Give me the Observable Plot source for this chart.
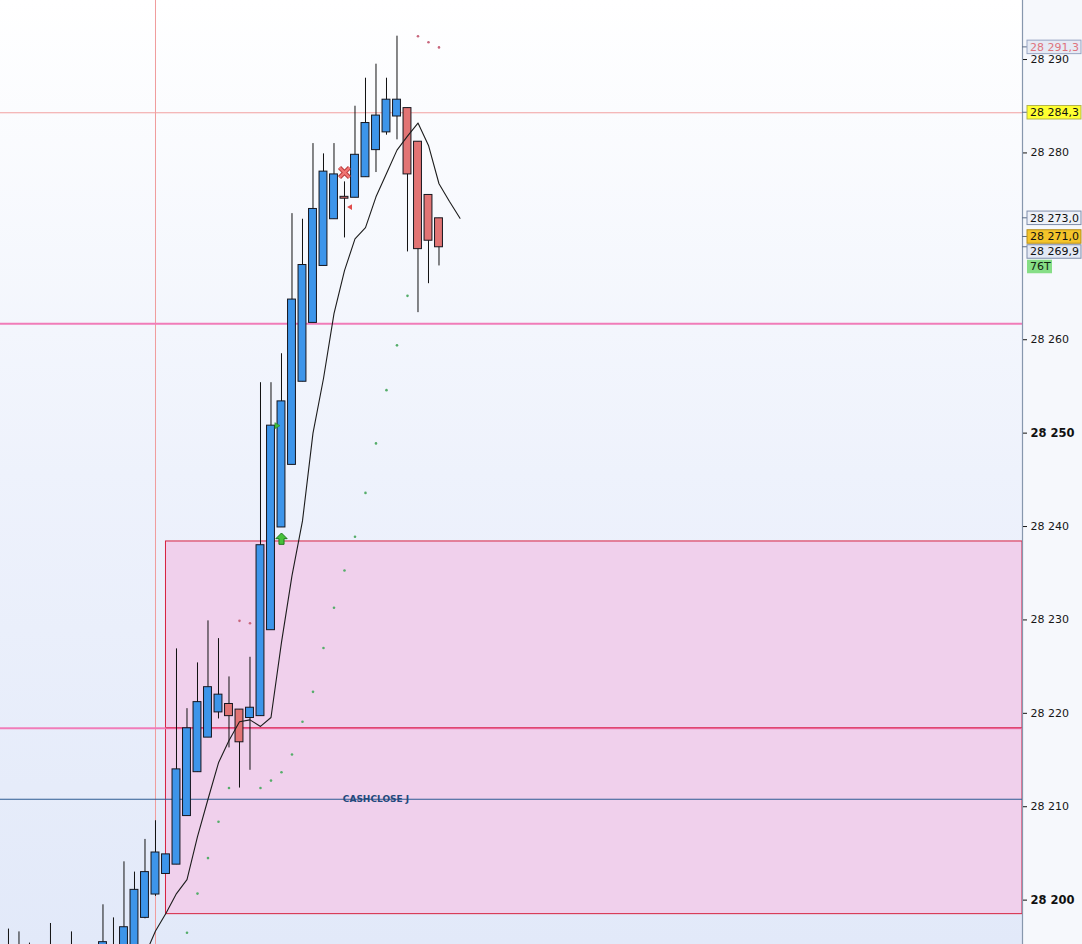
<!DOCTYPE html>
<html>
<head>
<meta charset="utf-8">
<script src="https://cdn.jsdelivr.net/npm/d3@7"></script>
<script src="https://cdn.jsdelivr.net/npm/@observablehq/plot@0.6"></script>
<style>
  html, body { margin: 0; padding: 0; background: #ffffff; }
  #chart svg { display: block; }
</style>
</head>
<body>
<div id="chart"></div>
<script>
// ---- candles (bar index, OHLC) ----
const bars   = d3.range(-9, 33);
const opens  = [28193.8, 28194.2, 28194.0, 28193.6, 28193.9, 28193.5, 28193.8, 28194.0, 28194.2,
                28194.8, 28194.2, 28194.5, 28195.0, 28198.1, 28200.6, 28202.8, 28203.8, 28209.0, 28213.7,
                28217.4, 28220.1, 28221.0, 28220.4, 28219.5, 28219.7, 28228.9, 28239.9, 28246.6, 28255.5,
                28261.8, 28267.9, 28272.9, 28275.3, 28275.2, 28277.4, 28280.3, 28282.2, 28283.9, 28284.8,
                28281.2, 28275.5, 28273.0];
const highs  = [28196.9, 28196.6, 28195.4, 28194.8, 28197.5, 28194.9, 28196.6, 28195.0, 28195.1,
                28199.5, 28198.1, 28204.1, 28203.0, 28206.5, 28208.5, 28204.9, 28226.9, 28220.5, 28225.4,
                28229.9, 28228.0, 28223.9, 28220.4, 28226.0, 28255.4, 28255.4, 28258.5, 28273.5, 28272.9,
                28281.0, 28279.9, 28281.0, 28276.9, 28285.0, 28288.0, 28289.5, 28288.0, 28292.5, 28284.8,
                28281.2, 28275.5, 28273.0];
const lows   = [28192.5, 28193.0, 28192.8, 28192.4, 28192.9, 28192.6, 28193.0, 28193.1, 28193.3,
                28194.3, 28193.9, 28194.2, 28194.8, 28198.0, 28200.4, 28202.8, 28203.8, 28209.0, 28213.7,
                28217.4, 28219.4, 28216.3, 28212.0, 28213.9, 28219.7, 28228.9, 28239.9, 28246.6, 28255.5,
                28261.8, 28267.9, 28272.9, 28270.9, 28275.2, 28277.4, 28277.9, 28281.9, 28281.4, 28269.4,
                28262.9, 28266.0, 28267.9];
const closes = [28194.4, 28194.6, 28194.5, 28194.0, 28194.6, 28194.1, 28194.7, 28194.6, 28194.8,
                28195.5, 28195.0, 28197.1, 28201.1, 28203.0, 28205.1, 28204.9, 28214.0, 28218.4, 28221.2,
                28222.8, 28222.0, 28219.7, 28216.9, 28220.6, 28238.0, 28250.8, 28253.4, 28264.3, 28268.0,
                28274.0, 28278.0, 28277.7, 28275.1, 28279.8, 28283.2, 28284.0, 28285.7, 28285.7, 28277.7,
                28269.7, 28270.6, 28269.9];

// ---- parabolic SAR ----
const sarBars   = d3.range(8, 33);
const sarValues = [28196.5, 28200.7, 28204.5, 28208.4, 28212.0, 28229.9, 28229.65, 28212.0, 28212.8,
                   28213.7, 28215.6, 28219.1, 28222.3, 28227.0, 28231.3, 28235.3, 28238.9, 28243.6,
                   28248.9, 28254.6, 28259.4, 28264.7, 28292.5, 28291.85, 28291.3];

// ---- displaced moving average ----
const maBars   = d3.range(4, 35);
const maValues = [28194.1, 28196.7, 28198.6, 28200.7, 28202.2, 28206.8, 28210.8, 28214.7, 28217.1,
                  28219.1, 28219.3, 28218.6, 28219.55, 28227.6, 28234.75, 28240.6, 28250.0, 28255.85,
                  28262.8, 28267.4, 28270.8, 28272.0, 28275.3, 28277.8, 28280.3, 28281.8, 28283.2,
                  28280.8, 28276.7, 28274.8, 28273.0];

// ---- levels, zone, events ----
const resistanceLevel = 28284.3;
const pinkLevels      = [28261.7, 28218.4];
const cashCloseLevel  = 28210.8;
const cashCloseLabel  = "CASHCLOSE J";
const cashCloseBar    = 26;
const sessionBar      = 5;
const zoneStartBar    = 6;
const zoneTop         = 28238.4;
const zoneBottom      = 28198.5;
const buyArrow        = {bar: 17, value: 28238.7};
const buyFlag         = {bar: 16, value: 28250.8};
const exitCross       = {bar: 23, value: 28277.9};
const sellFlag        = {bar: 23, value: 28274.2};

// ---- right axis ----
const tickValues = [28210, 28220, 28230, 28240, 28260, 28280, 28290];
const boldTicks  = [28200, 28250];
const tagValues  = [28291.3, 28284.3, 28273.0, 28271.0, 28269.9];
const volumeTag  = "76T";

// ---- layout ----
const W = 1082, H = 944, axisGap = 60;
const viewBars = [-9.76, 87.57];          // bar window shown, incl. blank future space
const viewPrices = [28195.25, 28296.32];

const locale = d3.formatLocale({decimal: ",", thousands: " ", grouping: [3], currency: ["", ""]});
const fmtTick = locale.format(",d");
const fmtPrice = locale.format(",.1f");

const candles = bars.map((bar, i) => ({bar, open: opens[i], high: highs[i], low: lows[i], close: closes[i]}));
const sar = sarBars.map((bar, i) => ({bar, value: sarValues[i], above: sarValues[i] > closes[bars.indexOf(bar)]}));
const ma = maBars.map((bar, i) => ({bar, value: maValues[i]}));

const tagStyles = [
  {fill: "#e6eaf4", stroke: "#97a5c3", ink: "#df737d", w: 54},
  {fill: "#ffff30", stroke: "#b5b54a", ink: "#111111", w: 54},
  {fill: "#eef1f8", stroke: "#7f8eac", ink: "#111111", w: 54},
  {fill: "#f4c42a", stroke: "#b58d1a", ink: "#111111", w: 54},
  {fill: "#e4e9f5", stroke: "#7f8eac", ink: "#111111", w: 54},
  {fill: "#86de86", stroke: "none",    ink: "#112211", w: 25}
];
const tags = [
  ...tagValues.map(v => ({value: v, text: fmtPrice(v)})),
  {value: closes[closes.length - 1], text: volumeTag}
];

// custom symbols
const upArrow = {
  draw(ctx, size) {
    const h = Math.sqrt(size) / 2;
    ctx.moveTo(0, -h);
    ctx.lineTo(h, 0);
    ctx.lineTo(h * 0.45, 0);
    ctx.lineTo(h * 0.45, h);
    ctx.lineTo(-h * 0.45, h);
    ctx.lineTo(-h * 0.45, 0);
    ctx.lineTo(-h, 0);
    ctx.closePath();
  }
};
const triRight = {
  draw(ctx, size) {
    const h = Math.sqrt(size) / 2;
    ctx.moveTo(-h * 0.7, -h);
    ctx.lineTo(h, 0);
    ctx.lineTo(-h * 0.7, h);
    ctx.closePath();
  }
};
const triLeft = {
  draw(ctx, size) {
    const h = Math.sqrt(size) / 2;
    ctx.moveTo(h * 0.7, -h);
    ctx.lineTo(-h, 0);
    ctx.lineTo(h * 0.7, h);
    ctx.closePath();
  }
};

// boxed price tags on the right axis, stacked so they do not overlap
function priceTags(index, scales, values, dimensions) {
  const ns = "http://www.w3.org/2000/svg";
  const g = document.createElementNS(ns, "g");
  g.setAttribute("text-anchor", "start");
  const x0 = dimensions.width - dimensions.marginRight;
  const bh = 13.5, gap = 1.5;
  const ys = tags.map(t => scales.y(t.value));
  const order = d3.range(tags.length).sort((a, b) => ys[a] - ys[b] || a - b);
  const cy = new Array(tags.length);
  let prevBottom = -Infinity;
  for (const i of order) {
    let c = ys[i];
    if (c - bh / 2 < prevBottom + gap) c = prevBottom + gap + bh / 2;
    cy[i] = c;
    prevBottom = c + bh / 2;
  }
  tags.forEach((t, i) => {
    const s = tagStyles[i];
    if (s.stroke !== "none") {
      const tick = document.createElementNS(ns, "line");
      tick.setAttribute("x1", x0); tick.setAttribute("x2", x0 + 5);
      tick.setAttribute("y1", ys[i]); tick.setAttribute("y2", ys[i]);
      tick.setAttribute("stroke", "#5d6d88");
      g.appendChild(tick);
    }
    const r = document.createElementNS(ns, "rect");
    r.setAttribute("x", x0 + 5);
    r.setAttribute("y", cy[i] - bh / 2);
    r.setAttribute("width", s.w);
    r.setAttribute("height", bh);
    r.setAttribute("fill", s.fill);
    if (s.stroke !== "none") r.setAttribute("stroke", s.stroke);
    g.appendChild(r);
    const tx = document.createElementNS(ns, "text");
    tx.setAttribute("x", x0 + 8);
    tx.setAttribute("y", cy[i]);
    tx.setAttribute("dy", "0.36em");
    tx.setAttribute("text-anchor", "start");
    tx.setAttribute("fill", s.ink);
    tx.setAttribute("font-size", "11");
    tx.textContent = t.text;
    g.appendChild(tx);
  });
  return g;
}

const zone = [{x1: zoneStartBar, x2: viewBars[1], y1: zoneBottom, y2: zoneTop}];

const chart = Plot.plot({
  width: W,
  height: H,
  marginLeft: 0,
  marginRight: axisGap,
  marginTop: 0,
  marginBottom: 0,
  style: {fontFamily: "'DejaVu Sans', sans-serif", fontSize: "11px", overflow: "hidden"},
  x: {domain: viewBars, axis: null},
  y: {domain: viewPrices, axis: null, label: null},
  color: {type: "identity"},
  marks: [
    // support / resistance zone
    Plot.rect(zone, {x1: "x1", x2: "x2", y1: "y1", y2: "y2", fill: "#f0d0ec", stroke: "#d62340", strokeWidth: 1}),
    Plot.ruleX([sessionBar], {stroke: "#f09c9c", strokeWidth: 1}),
    Plot.ruleY([resistanceLevel], {stroke: "#f2a0a0", strokeWidth: 1}),
    Plot.ruleY(pinkLevels, {stroke: "#f17cb9", strokeWidth: 2}),
    Plot.ruleY([(zoneTop + zoneBottom) / 2], {x1: zoneStartBar, x2: viewBars[1], stroke: "#d8284a", strokeWidth: 1}),
    Plot.ruleY([cashCloseLevel], {stroke: "#2d5b93", strokeWidth: 1}),
    Plot.text([cashCloseLabel], {x: cashCloseBar, y: cashCloseLevel, text: d => d, fill: "#24497c",
      fontSize: 9, fontWeight: "bold"}),

    // candles
    Plot.ruleX(candles, {x: "bar", y1: "low", y2: "high", stroke: "#111111", strokeWidth: 1}),
    Plot.rect(candles, {
      x1: d => d.bar - 0.5, x2: d => d.bar + 0.5, insetLeft: 1.3, insetRight: 1.3,
      y1: "open", y2: "close",
      fill: d => d.close >= d.open ? "#3d95ea" : "#e27474",
      stroke: "#16161e", strokeWidth: 1
    }),

    // moving average
    Plot.line(ma, {x: "bar", y: "value", stroke: "#1c1c1c", strokeWidth: 1.1, curve: "linear"}),

    // parabolic SAR
    Plot.dot(sar, {x: "bar", y: "value", r: 1.3, stroke: null,
      fill: d => d.above ? "#c8667c" : "#55ad6a"}),

    // signals
    Plot.dot([buyArrow], {x: "bar", y: "value", symbol: upArrow, r: 6.4, fill: "#47c23a", stroke: "#1f7a1f", strokeWidth: 1}),
    Plot.dot([buyFlag], {x: "bar", y: "value", dx: 6, symbol: triRight, r: 3.4, fill: "#3fbf3a", stroke: "#2a8a2a", strokeWidth: 0.6}),
    Plot.dot([exitCross], {x: "bar", y: "value", symbol: "times", r: 4.6, stroke: "#b83a3a", strokeWidth: 4.4}),
    Plot.dot([exitCross], {x: "bar", y: "value", symbol: "times", r: 4.6, stroke: "#f07474", strokeWidth: 2.4}),
    Plot.dot([sellFlag], {x: "bar", y: "value", dx: 5.5, symbol: triLeft, r: 3.2, fill: "#e04c4c", stroke: null}),

    // right price axis
    Plot.ruleX([viewBars[1]], {stroke: "#8797ad", strokeWidth: 1.2}),
    Plot.axisY(tickValues, {anchor: "right", tickSize: 4, tickPadding: 4, tickFormat: fmtTick,
      fontSize: 11, color: "#161616", label: null}),
    Plot.axisY(boldTicks, {anchor: "right", tickSize: 4, tickPadding: 4, tickFormat: fmtTick,
      fontSize: 11.5, fontWeight: "bold", color: "#111111", label: null}),
    priceTags
  ]
});

const plotRight = W - axisGap;
chart.style.background =
  `linear-gradient(to right, rgba(255,255,255,0) ${plotRight}px, #f6f8fc ${plotRight}px), ` +
  `linear-gradient(to bottom, #ffffff 0%, #eef2fc 50%, #e2e9f9 100%)`;

document.getElementById("chart").appendChild(chart);
</script>
</body>
</html>
